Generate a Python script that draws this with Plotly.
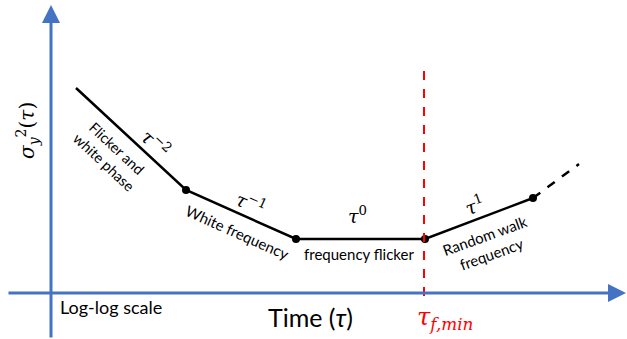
import plotly.graph_objects as go

# Conceptual Allan-variance slopes (log-log, arbitrary units)
log_tau = [76, 186, 296, 425, 533]
log_sigma = [251, 149, 100, 100, 141]
ext_tau = [533, 579]
ext_sigma = [141, 175]
tau_f_min = 424

slope_labels = ["<i>τ</i><sup>−2</sup>", "<i>τ</i><sup>−1</sup>", "<i>τ</i><sup>0</sup>", "<i>τ</i><sup>1</sup>"]
region_labels = ["Flicker and<br>white phase", "White frequency", "frequency flicker", "Random walk<br>frequency"]

BLUE = "#4472C4"
TXT = "Lato, 'Open Sans', sans-serif"
SERIF = "'DejaVu Serif', serif"

fig = go.Figure()
fig.add_trace(go.Scatter(x=log_tau, y=log_sigma, mode="lines", line=dict(color="black", width=2.5),
                         hoverinfo="skip", showlegend=False))
fig.add_trace(go.Scatter(x=log_tau[1:], y=log_sigma[1:], mode="markers", marker=dict(color="black", size=8),
                         hoverinfo="skip", showlegend=False))
fig.add_trace(go.Scatter(x=ext_tau, y=ext_sigma, mode="lines", line=dict(color="black", width=2.5, dash="dash"),
                         hoverinfo="skip", showlegend=False))

fig.add_shape(type="line", x0=tau_f_min, x1=tau_f_min, y0=43, y1=273, xref="x", yref="y",
              line=dict(color="red", width=2, dash="dash"), layer="above")

anns = []
# axis arrows
anns.append(dict(x=51, y=334, ax=51, ay=0, xref="x", yref="y", axref="x", ayref="y", text="",
                 showarrow=True, arrowhead=2, arrowsize=1.2, arrowwidth=3, arrowcolor=BLUE, standoff=0))
anns.append(dict(x=626, y=46, ax=7, ay=46, xref="x", yref="y", axref="x", ayref="y", text="",
                 showarrow=True, arrowhead=2, arrowsize=1.2, arrowwidth=3, arrowcolor=BLUE, standoff=0))

def t(x, y, s, size, angle=0, color="black", family=TXT):
    anns.append(dict(x=x, y=y, xref="x", yref="y", text=s, showarrow=False, textangle=angle,
                     font=dict(size=size, color=color, family=family), xanchor="center", yanchor="middle"))

t(110, 184, region_labels[0], 14.5, 43)
t(156, 196, slope_labels[0], 19, 43, family=SERIF)
t(251, 136, slope_labels[1], 19, 24, family=SERIF)
t(237, 107, region_labels[1], 15, 24)
t(357, 124, slope_labels[2], 19, 0, family=SERIF)
t(359, 85, region_labels[2], 15, 0)
t(474, 134, slope_labels[3], 19, -20, family=SERIF)
t(488, 94, region_labels[3], 15, -20)
t(310, 22, "Time (<i>τ</i>)", 25)
t(111, 32, "Log-log scale", 18)
t(445, 21, "<i>τ</i><sub><i>f,min</i></sub>", 24, color="red", family=SERIF)
t(27, 208, "<i>σ</i><sub><i>y</i></sub><sup>2</sup>(<i>τ</i>)", 20, -90, family=SERIF)

fig.update_layout(width=627, height=339, margin=dict(l=0, r=0, t=0, b=0),
                  paper_bgcolor="white", plot_bgcolor="white", annotations=anns,
                  xaxis=dict(range=[0, 627], visible=False, fixedrange=True),
                  yaxis=dict(range=[0, 339], visible=False, fixedrange=True))
fig.write_html("out.html")
